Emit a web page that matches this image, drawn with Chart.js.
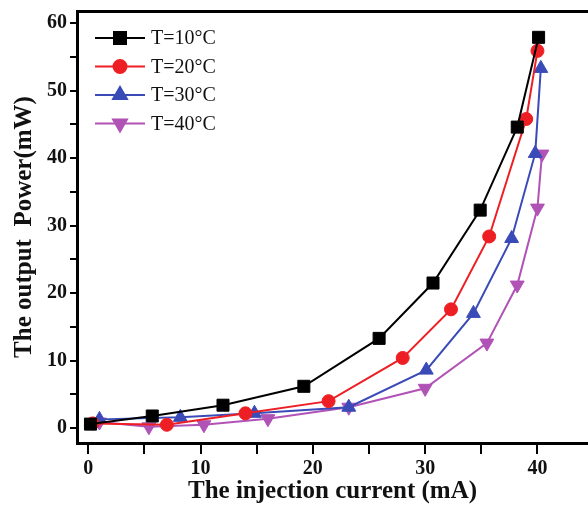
<!DOCTYPE html>
<html>
<head>
<meta charset="utf-8">
<script src="https://cdn.jsdelivr.net/npm/chart.js@4.4.1/dist/chart.umd.min.js"></script>
<style>
  html, body { margin: 0; padding: 0; background: #fff; overflow: hidden; }
  .chart-box { width: 588px; height: 506px; }
</style>
</head>
<body>
<div class="chart-box">
  <canvas id="powerChart" width="588" height="506"></canvas>
</div>
<script>
// injection current (mA) / output power (mW)
const labels = ['T=10°C', 'T=20°C', 'T=30°C', 'T=40°C'];

const current10 = [0.2, 5.7, 12.0, 19.2, 25.9, 30.7, 34.9, 38.2, 40.1];
const power10 = [0.6, 1.8, 3.4, 6.2, 13.3, 21.5, 32.3, 44.6, 57.9];

const current20 = [0.4, 7.0, 14.0, 21.4, 28.0, 32.3, 35.7, 39.0, 40.0];
const power20 = [0.7, 0.5, 2.2, 4.0, 10.4, 17.6, 28.4, 45.8, 55.9];

const current30 = [1.0, 8.2, 14.8, 23.2, 30.1, 34.3, 37.7, 39.8, 40.3];
const power30 = [1.3, 1.6, 2.2, 3.1, 8.6, 17.0, 28.1, 40.7, 53.3];

const current40 = [1.0, 5.4, 10.3, 16.0, 23.2, 30.0, 35.5, 38.2, 40.0, 40.4];
const power40 = [0.9, 0.2, 0.5, 1.4, 3.1, 5.9, 12.6, 21.2, 32.6, 40.6];

const colors = ['#000000', '#ee1f24', '#3a4bb8', '#b152b6'];
const markers = ['rect', 'circle', 'triangle', 'triangle'];
const markerRotation = [0, 0, 0, 180];
const markerSize = [8.5, 6.5, 8, 8];

const toPoints = (xs, ys) => xs.map((x, i) => ({ x: x, y: ys[i] }));
const seriesData = [
  toPoints(current10, power10),
  toPoints(current20, power20),
  toPoints(current30, power30),
  toPoints(current40, power40),
];

const serif = '"Liberation Serif", "Times New Roman", serif';

// legend with line + marker, drawn inside the plot area
const insideLegend = {
  id: 'insideLegend',
  afterDatasetsDraw(chart) {
    const ctx = chart.ctx;
    const x0 = 95, x1 = 145, y0 = 38, gap = 28.5;
    ctx.save();
    labels.forEach((label, i) => {
      const y = y0 + i * gap;
      ctx.strokeStyle = colors[i];
      ctx.lineWidth = 2;
      ctx.beginPath();
      ctx.moveTo(x0, y);
      ctx.lineTo(x1, y);
      ctx.stroke();
      ctx.fillStyle = colors[i];
      Chart.helpers.drawPoint(ctx, {
        pointStyle: markers[i],
        radius: markerSize[i],
        rotation: markerRotation[i],
        borderWidth: 1,
      }, (x0 + x1) / 2, y);
      ctx.fillStyle = '#111';
      ctx.font = '20px ' + serif;
      ctx.textBaseline = 'middle';
      ctx.textAlign = 'left';
      ctx.fillText(label, 151, y + 1);
    });
    ctx.restore();
  },
};

const tickFont = { family: serif, size: 20, weight: 'bold' };

new Chart(document.getElementById('powerChart').getContext('2d'), {
  type: 'line',
  data: {
    datasets: seriesData.map((pts, i) => ({
      label: labels[i],
      data: pts,
      borderColor: colors[i],
      backgroundColor: colors[i],
      borderWidth: 2,
      pointStyle: markers[i],
      pointRotation: markerRotation[i],
      pointRadius: markerSize[i],
      pointBorderWidth: 1,
      tension: 0,
    })),
  },
  options: {
    responsive: false,
    animation: false,
    layout: { padding: 0, autoPadding: false },
    plugins: {
      legend: { display: false },
      tooltip: { enabled: false },
    },
    scales: {
      x: {
        type: 'linear',
        position: 'bottom',
        min: -1,
        max: 44.5,
        afterFit(scale) {
          scale.height = 63;
          scale.paddingRight = 0;
          scale.paddingLeft = 0;
        },
        border: { display: true, color: '#000', width: 3 },
        grid: { display: true, drawOnChartArea: false, drawTicks: true, tickLength: 11, color: '#000', tickWidth: 2, lineWidth: 2 },
        ticks: {
          stepSize: 5,
          includeBounds: false,
          autoSkip: false,
          maxRotation: 0,
          padding: 3,
          color: '#111',
          font: tickFont,
          callback: v => (v % 10 === 0 ? v : ''),
        },
        title: {
          display: true,
          text: 'The injection current (mA)',
          color: '#111',
          font: { family: serif, size: 25, weight: 'bold' },
          padding: { top: 0, bottom: -1 },
        },
      },
      xTop: {
        type: 'linear',
        position: 'top',
        min: -1,
        max: 44.5,
        afterFit(scale) {
          scale.height = 11;
          scale.paddingRight = 0;
          scale.paddingLeft = 0;
        },
        border: { display: true, color: '#000', width: 3 },
        grid: { display: false },
        ticks: { display: false },
      },
      y: {
        type: 'linear',
        position: 'left',
        min: -2.2,
        max: 61.8,
        afterFit(scale) {
          scale.width = 77;
          scale.paddingTop = 0;
          scale.paddingBottom = 0;
        },
        border: { display: true, color: '#000', width: 3 },
        grid: { display: true, drawOnChartArea: false, drawTicks: true, tickLength: 7, color: '#000', tickWidth: 2, lineWidth: 2 },
        ticks: {
          stepSize: 5,
          includeBounds: false,
          autoSkip: false,
          padding: 3,
          color: '#111',
          font: tickFont,
          callback: v => (v % 10 === 0 ? v : ''),
        },
        title: {
          display: true,
          text: 'The output  Power(mW)',
          color: '#111',
          font: { family: serif, size: 25, weight: 'bold' },
          padding: { top: 10, bottom: 0 },
        },
      },
    },
  },
  plugins: [insideLegend],
});
</script>
</body>
</html>
